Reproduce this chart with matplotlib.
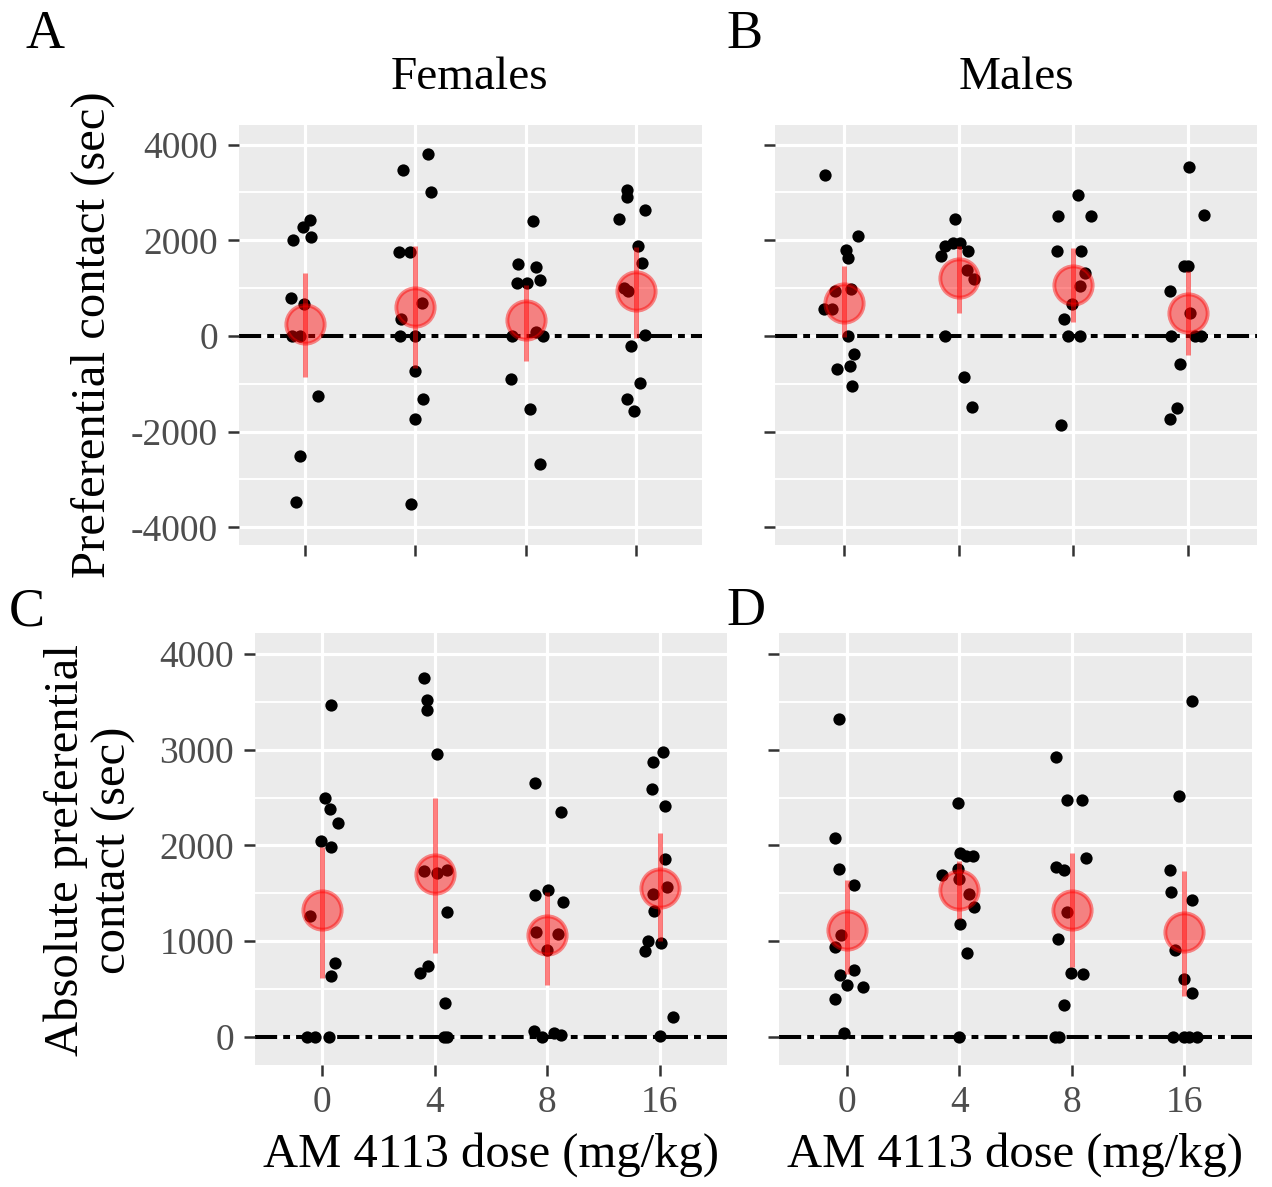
import matplotlib
matplotlib.use("Agg")
import matplotlib.pyplot as plt

plt.rcParams['font.family'] = ['Liberation Serif', 'DejaVu Serif']
plt.rcParams['axes.unicode_minus'] = False

doses = ['0', '4', '8', '16']

# Females, preferential contact (sec), one list per dose
fem_pref = [
    [2013, 2279, 2433, 2069, 790, 664, 0, 0, -1258, -2509, -3481],
    [3460, 3796, 3006, 1761, 1748, 699, 356, 0, 0, -734, -1314, -1740, -3523],
    [2398, 1510, 1433, 1104, 1104, 1167, 0, 84, 0, -895, -1531, -2670],
    [3041, 2908, 2628, 2453, 1887, 1524, 1000, 930, 21, -210, -993, -1314, -1573],
]
fem_pref_jit = [
    [-0.11, -0.02, 0.04, 0.05, -0.13, -0.01, -0.12, -0.05, 0.12, -0.05, -0.08],
    [-0.11, 0.11, 0.14, -0.15, -0.05, 0.06, -0.13, -0.14, 0.0, 0.0, 0.07, 0.0, -0.04],
    [0.07, -0.07, 0.09, -0.08, 0.01, 0.13, -0.12, 0.09, 0.16, -0.13, 0.04, 0.13],
    [-0.08, -0.08, 0.08, -0.15, 0.02, 0.06, -0.11, -0.07, 0.08, -0.04, 0.04, -0.08, -0.02],
]
fem_pref_mean = [252, 615, 336, 944]
fem_pref_lo = [-853, -678, -517, -49]
fem_pref_hi = [1314, 1873, 1056, 1852]

# Males, preferential contact (sec)
mal_pref = [
    [3355, 2083, 1789, 1629, 930, 979, 559, 559, 0, -377, -685, -629, -1049],
    [2454, 1887, 1943, 1943, 1678, 1782, 1384, 1188, 0, -853, -1482],
    [2957, 2502, 2502, 1768, 1782, 1314, 1035, 671, 349, 0, 0, -1866],
    [3530, 2537, 1454, 1454, 944, 489, 0, 0, 0, -587, -1496, -1740],
]
mal_pref_jit = [
    [-0.16, 0.12, 0.02, 0.04, -0.08, 0.06, -0.17, -0.10, 0.04, 0.09, -0.06, 0.05, 0.07],
    [-0.03, -0.12, -0.05, 0.01, -0.15, 0.08, 0.07, 0.13, -0.12, 0.05, 0.12],
    [0.04, -0.13, 0.15, -0.14, 0.07, 0.10, 0.06, -0.01, -0.08, -0.05, 0.06, -0.11],
    [0.01, 0.14, -0.04, 0.0, -0.16, 0.02, -0.15, 0.06, 0.11, -0.07, -0.10, -0.16],
]
mal_pref_mean = [699, 1209, 1069, 489]
mal_pref_lo = [-30, 489, 300, -398]
mal_pref_hi = [1454, 1873, 1838, 1349]

# Females, absolute preferential contact (sec)
fem_abs = [
    [3463, 2498, 2384, 2231, 2047, 1978, 1260, 774, 632, 0, 0, 0],
    [3748, 3515, 3418, 2960, 1735, 1707, 1742, 1308, 739, 666, 354, 0, 0],
    [2655, 2353, 1485, 1534, 1405, 1093, 1076, 902, 62, 0, 35, 17],
    [2974, 2870, 2592, 2412, 1856, 1562, 1492, 1319, 999, 982, 895, 208, 7],
]
fem_abs_jit = [
    [0.08, 0.02, 0.07, 0.14, -0.01, 0.08, -0.11, 0.11, 0.08, -0.14, -0.07, 0.06],
    [-0.10, -0.07, -0.07, 0.02, -0.10, 0.02, 0.11, 0.11, -0.06, -0.13, 0.09, 0.08, 0.11],
    [-0.11, 0.12, -0.11, 0.01, 0.14, -0.10, 0.10, 0.0, -0.12, -0.05, 0.06, 0.12],
    [0.03, -0.06, -0.07, 0.05, 0.05, 0.07, -0.06, -0.05, -0.10, 0.01, -0.13, 0.12, 0.0],
]
fem_abs_mean = [1326, 1700, 1058, 1555]
fem_abs_lo = [614, 874, 538, 999]
fem_abs_hi = [1985, 2491, 1509, 2127]

# Males, absolute preferential contact (sec)
mal_abs = [
    [3324, 2072, 1752, 1589, 1058, 937, 694, 642, 538, 521, 389, 35],
    [2446, 1915, 1891, 1891, 1752, 1690, 1648, 1492, 1360, 1173, 874, 0],
    [2922, 2471, 2471, 1863, 1770, 1745, 1301, 1017, 670, 659, 330, 0, 0],
    [3505, 2516, 1742, 1509, 1430, 909, 607, 458, 0, 0, 0, 0],
]
mal_abs_jit = [
    [-0.07, -0.10, -0.07, 0.07, -0.05, -0.10, 0.07, -0.06, 0.0, 0.15, -0.10, -0.02],
    [-0.01, 0.01, 0.06, 0.12, -0.01, -0.15, 0.0, 0.09, 0.13, 0.01, 0.07, 0.0],
    [-0.14, -0.04, 0.09, 0.13, -0.14, -0.07, -0.04, -0.12, -0.01, 0.10, -0.07, -0.15, -0.11],
    [0.07, -0.05, -0.13, -0.12, 0.07, -0.08, 0.0, 0.07, -0.10, 0.0, 0.04, 0.11],
]
mal_abs_mean = [1117, 1534, 1326, 1093]
mal_abs_lo = [659, 1232, 729, 423]
mal_abs_hi = [1638, 1839, 1915, 1735]

W, H = 1272, 1187
fig = plt.figure(figsize=(W / 100, H / 100), dpi=100)


def add_ax(l, t, r, b):
    return fig.add_axes([l / W, 1 - b / H, (r - l) / W, (b - t) / H])


def fpos(x, y):
    return x / W, 1 - y / H


def draw_panel(ax, vals, jit, mean, lo, hi, ylim, major, minor, ylabels, xlabels):
    ax.set_facecolor('#EBEBEB')
    for s in ax.spines.values():
        s.set_visible(False)
    ax.set_xlim(0.4, 4.6)
    ax.set_ylim(*ylim)
    for y in minor:
        ax.axhline(y, color='white', lw=1.4, zorder=0)
    for y in major:
        ax.axhline(y, color='white', lw=2.3, zorder=0)
    for i in range(len(doses)):
        ax.axvline(i + 1, color='white', lw=2.3, zorder=0)
    # dot-dash reference line at zero
    ax.axhline(0, color='black', lw=2.9, linestyle=(0, (5.5, 1.5, 1.7, 1.5)), zorder=1)
    for i, (v, j) in enumerate(zip(vals, jit)):
        xs = [i + 1 + d for d in j]
        ax.scatter(xs, v, s=78, color='black', linewidths=0, zorder=2)
    xpos = list(range(1, len(doses) + 1))
    ax.vlines(xpos, lo, hi, color='red', alpha=0.5, lw=3.6, zorder=3)
    ax.scatter(xpos, mean, s=760, facecolor=(1, 0, 0, 0.45),
               edgecolor=(1, 0, 0, 0.45), linewidths=2.8, zorder=4)
    ax.set_xticks(xpos)
    ax.set_xticklabels(doses if xlabels else [])
    ax.set_yticks(major)
    ax.set_yticklabels([str(m) for m in major] if ylabels else [])
    ax.tick_params(length=8, width=1.8, color='#333333', labelsize=27,
                   labelcolor='#4D4D4D', pad=7)


pref_major = [-4000, -2000, 0, 2000, 4000]
pref_minor = [-3000, -1000, 1000, 3000]
abs_major = [0, 1000, 2000, 3000, 4000]
abs_minor = [500, 1500, 2500, 3500]

axA = add_ax(239, 125, 702, 545)
draw_panel(axA, fem_pref, fem_pref_jit, fem_pref_mean, fem_pref_lo, fem_pref_hi,
           (-4370, 4410), pref_major, pref_minor, True, False)
axB = add_ax(775, 125, 1257, 545)
draw_panel(axB, mal_pref, mal_pref_jit, mal_pref_mean, mal_pref_lo, mal_pref_hi,
           (-4370, 4410), pref_major, pref_minor, False, False)
axC = add_ax(255, 633, 727, 1065)
draw_panel(axC, fem_abs, fem_abs_jit, fem_abs_mean, fem_abs_lo, fem_abs_hi,
           (-296, 4220), abs_major, abs_minor, True, True)
axD = add_ax(779, 633, 1252, 1065)
draw_panel(axD, mal_abs, mal_abs_jit, mal_abs_mean, mal_abs_lo, mal_abs_hi,
           (-296, 4220), abs_major, abs_minor, False, True)

# panel letters and titles
for lab, x, y in [('A', 45, 35), ('B', 745, 35), ('C', 27, 612), ('D', 746, 612)]:
    fig.text(*fpos(x, y), lab, fontsize=39, ha='center', va='center')
fig.text(*fpos(470, 78), 'Females', fontsize=34, ha='center', va='center')
fig.text(*fpos(1016, 78), 'Males', fontsize=34, ha='center', va='center')

fig.text(*fpos(93, 335), 'Preferential contact (sec)', fontsize=35,
         rotation=90, ha='center', va='center')
fig.text(*fpos(90, 850), 'Absolute preferential\ncontact (sec)', fontsize=35,
         rotation=90, ha='center', va='center', linespacing=1.1,
         multialignment='center')
fig.text(*fpos(491, 1155), 'AM 4113 dose (mg/kg)', fontsize=35, ha='center', va='center')
fig.text(*fpos(1015, 1155), 'AM 4113 dose (mg/kg)', fontsize=35, ha='center', va='center')

fig.savefig('out.png', dpi=100)
